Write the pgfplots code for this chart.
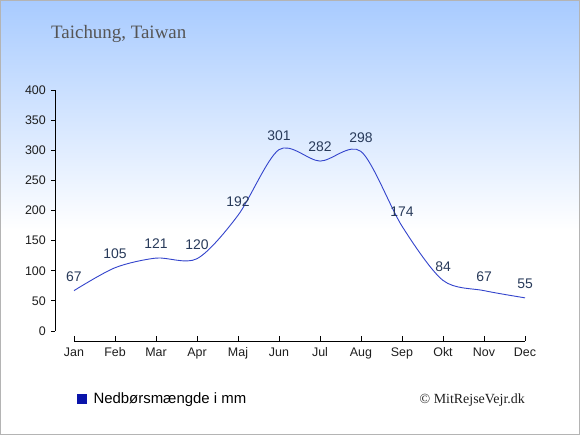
\documentclass[border=0pt]{standalone}
\usepackage{pgfplots}
\pgfplotsset{compat=1.18}
\usepackage{fontspec}
\setmainfont{Liberation Sans}
\newfontfamily\seriffont{Liberation Serif}
\definecolor{bgtop}{RGB}{168,203,255}
\definecolor{linec}{RGB}{51,68,204}
\definecolor{labc}{RGB}{40,58,90}
\definecolor{legc}{RGB}{10,20,170}
\definecolor{framec}{RGB}{180,180,180}
\definecolor{titlec}{RGB}{85,85,85}
\definecolor{tickc}{RGB}{30,30,30}
\begin{document}
\begin{tikzpicture}[x=1bp,y=1bp]
\useasboundingbox (0,0) rectangle (580,435);
\fill[white] (0,0) rectangle (580,435);
\shade[top color=bgtop, bottom color=white] (0,205) rectangle (580,435);
\begin{axis}[
  at={(74bp,104bp)}, anchor=south west,
  scale only axis, width=451bp, height=241bp,
  xmin=0, xmax=11, ymin=0, ymax=400,
  clip=false,
  axis line style={draw=none},
  tick style={draw=none},
  major tick length=0pt,
  xtick={0,...,11},
  xticklabels={Jan,Feb,Mar,Apr,Maj,Jun,Jul,Aug,Sep,Okt,Nov,Dec},
  ytick={0,50,...,400},
  /pgf/number format/assume math mode=true,
  tick label style={font=\fontsize{12.5}{14}\selectfont, text=tickc, inner sep=0pt},
  x tick label style={anchor=base, yshift=-26bp},
  y tick label style={anchor=east, xshift=-28bp},
  nodes near coords,
  every node near coord/.append style={anchor=center, inner sep=0pt, yshift=14bp, font=\fontsize{14}{16}\selectfont, text=labc},
  legend style={at={(0.006,-0.2801)}, anchor=west, draw=none, fill=none, inner sep=0pt,
     font=\fontsize{15}{17}\selectfont, nodes={inner sep=0pt}},
  legend image code/.code={\fill[legc, draw=none] (0bp,-5bp) rectangle (10bp,5bp); \path[draw=none, fill=none] (0bp,0bp) -- (16.6bp,0bp);},
]
\addplot[color=linec, line width=0.9bp, smooth, mark=none] coordinates {
 (0,67) (1,105) (2,121) (3,120) (4,192) (5,301) (6,282) (7,298) (8,174) (9,84) (10,67) (11,55)
};
\addlegendentry{Nedbørsmængde i mm}
\draw[black, line width=0.8bp] (axis cs:-0.4634,0) -- (axis cs:-0.4634,400);
\pgfplotsinvokeforeach{0,50,...,400}{\draw[black, line width=0.8bp] (axis cs:-0.4634,#1) -- ++(-4bp,0);}
\draw[black, line width=0.8bp] (axis cs:0,-16.6) -- (axis cs:11,-16.6);
\pgfplotsinvokeforeach{0,...,11}{\draw[black, line width=0.8bp] (axis cs:#1,-16.6) -- ++(0,5bp);}
\end{axis}
\node[anchor=base west, inner sep=0pt, text=titlec, font=\seriffont\fontsize{19}{22}\selectfont] at (51,396.3) {Taichung, Taiwan};
\node[anchor=east, inner sep=0pt, text=tickc, font=\seriffont\fontsize{14}{16}\selectfont] at (525,35) {© MitRejseVejr.dk};
\draw[framec, line width=1.2bp] (0.6,0.6) rectangle (579.4,434.4);
\end{tikzpicture}
\end{document}
